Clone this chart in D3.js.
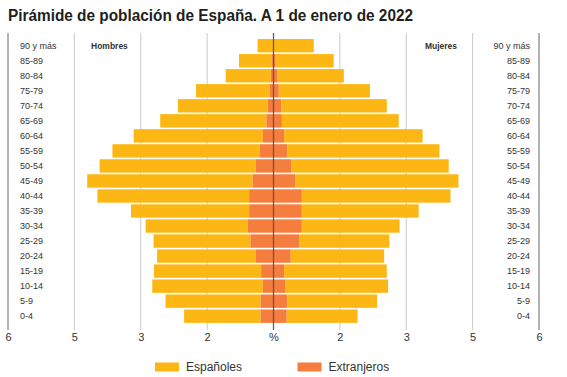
<!DOCTYPE html>
<html><head><meta charset="utf-8">
<script src="https://cdn.jsdelivr.net/npm/d3@7"></script>
<style>
html,body{margin:0;padding:0;background:#fff;}
svg{display:block;font-family:"Liberation Sans",Arial,sans-serif;}
</style></head>
<body><svg id="chart" width="567" height="377"></svg>
<script>
const ageGroups = ["90 y más","85-89","80-84","75-79","70-74","65-69","60-64","55-59","50-54","45-49","40-44","35-39","30-34","25-29","20-24","15-19","10-14","5-9","0-4"];
const menSpanish   = [0.35,0.75,1.02,1.66,2.03,2.40,2.92,3.33,3.53,3.74,3.43,2.67,2.31,2.19,2.23,2.42,2.50,2.15,1.73];
const menForeign   = [0.01,0.03,0.06,0.09,0.13,0.16,0.24,0.31,0.40,0.47,0.55,0.55,0.58,0.52,0.40,0.28,0.24,0.29,0.29];
const womenSpanish = [0.90,1.31,1.51,2.06,2.38,2.64,3.13,3.44,3.55,3.68,3.36,2.64,2.21,2.04,2.11,2.32,2.33,2.03,1.60];
const womenForeign = [0.01,0.05,0.08,0.12,0.18,0.19,0.24,0.31,0.41,0.50,0.64,0.64,0.64,0.58,0.39,0.24,0.26,0.31,0.30];
const tickValues = [-6,-4.5,-3,-1.5,0,1.5,3,4.5,6];
const tickLabels = ["6","5","3","2","%","2","3","5","6"];
const seriesNames = ["Españoles","Extranjeros"];
const colors = {spanish:"#FDB714", foreign:"#F57D3E"};

const svg = d3.select("#chart");
const x = d3.scaleLinear().domain([-6,6]).range([8,539]);
const y = d3.scaleBand().domain(ageGroups).range([38.2,323.7]).paddingInner(0.11).paddingOuter(0.055);

// title
svg.append("text").attr("x",8).attr("y",21)
  .attr("font-size",16).attr("font-weight","bold").attr("fill","#231f20")
  .attr("textLength",405).attr("lengthAdjust","spacingAndGlyphs")
  .text("Pirámide de población de España. A 1 de enero de 2022");

// gridlines
svg.append("g").selectAll("line").data(tickValues).join("line")
  .attr("x1",d=>x(d)).attr("x2",d=>x(d)).attr("y1",33).attr("y2",330)
  .attr("stroke",d=>Math.abs(d)===6?"#8a8a8a":"#c9c9c9")
  .attr("stroke-width",d=>Math.abs(d)===6?1.3:1);

// bars
const rows = ageGroups.map((g,i)=>({g, ms:menSpanish[i], mf:menForeign[i], ws:womenSpanish[i], wf:womenForeign[i]}));
const bars = svg.append("g");
const h = y.bandwidth();
// men spanish (outer)
bars.selectAll(".ms").data(rows).join("rect").attr("class","ms")
  .attr("x",d=>x(-(d.mf+d.ms))).attr("width",d=>x(-d.mf)-x(-(d.mf+d.ms)))
  .attr("y",d=>y(d.g)).attr("height",h).attr("fill",colors.spanish);
bars.selectAll(".mf").data(rows).join("rect").attr("class","mf")
  .attr("x",d=>x(-d.mf)).attr("width",d=>x(0)-x(-d.mf))
  .attr("y",d=>y(d.g)).attr("height",h).attr("fill",colors.foreign);
bars.selectAll(".wf").data(rows).join("rect").attr("class","wf")
  .attr("x",x(0)).attr("width",d=>x(d.wf)-x(0))
  .attr("y",d=>y(d.g)).attr("height",h).attr("fill",colors.foreign);
bars.selectAll(".ws").data(rows).join("rect").attr("class","ws")
  .attr("x",d=>x(d.wf)).attr("width",d=>x(d.wf+d.ws)-x(d.wf))
  .attr("y",d=>y(d.g)).attr("height",h).attr("fill",colors.spanish);

// center line
svg.append("line").attr("x1",x(0)).attr("x2",x(0)).attr("y1",33).attr("y2",330)
  .attr("stroke","#5a4a46").attr("stroke-opacity",0.85).attr("stroke-width",1.3);

// age labels
svg.append("g").selectAll("text").data(ageGroups).join("text")
  .attr("x",20).attr("y",d=>y(d)+h/2+3).attr("font-size",9).attr("fill","#333")
  .text(d=>d);
svg.append("g").selectAll("text").data(ageGroups).join("text")
  .attr("x",530).attr("y",d=>y(d)+h/2+3).attr("font-size",9).attr("fill","#333")
  .attr("text-anchor","end").text(d=>d);

// sex labels
svg.append("text").attr("x",91).attr("y",y(ageGroups[0])+h/2+3)
  .attr("font-size",8.5).attr("font-weight","bold").attr("fill","#333").text("Hombres");
svg.append("text").attr("x",457).attr("y",y(ageGroups[0])+h/2+3).attr("text-anchor","end")
  .attr("font-size",8.5).attr("font-weight","bold").attr("fill","#333").text("Mujeres");

// x axis labels
const axis = d3.axisBottom(x).tickValues(tickValues).tickFormat((d,i)=>tickLabels[i]).tickSize(0).tickPadding(0);
const ax = svg.append("g").attr("transform","translate(0,333)").call(axis);
ax.select(".domain").remove();
ax.selectAll("text").attr("font-size",11).attr("fill","#333").attr("font-family","'Liberation Sans',Arial,sans-serif").attr("dy","0.71em");

// legend
const legend = svg.append("g");
const legItems = [{name:seriesNames[0],c:colors.spanish,x:155},{name:seriesNames[1],c:colors.foreign,x:297.5}];
legItems.forEach(it=>{
  legend.append("rect").attr("x",it.x).attr("y",362.5).attr("width",24).attr("height",9).attr("fill",it.c);
  legend.append("text").attr("x",it.x+31).attr("y",371).attr("font-size",12).attr("fill","#333").text(it.name);
});
</script>
</body></html>
